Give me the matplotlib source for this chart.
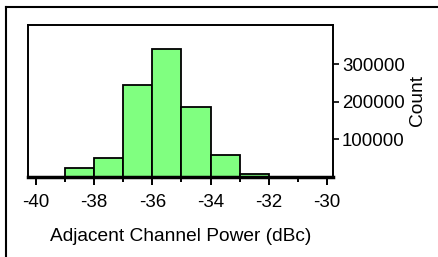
import numpy as np
import matplotlib
matplotlib.use('Agg')
import matplotlib.pyplot as plt
from matplotlib.lines import Line2D

plt.rcParams['font.family'] = ['Liberation Sans', 'DejaVu Sans']

# histogram bins (dBc) and counts
bin_edges = [-40, -39, -38, -37, -36, -35, -34, -33, -32, -31, -30]
counts = [1000, 25000, 51500, 244000, 342000, 187000, 59000, 8000, 1000, 1000]
x_ticks = [-40, -38, -36, -34, -32, -30]
y_ticks = [100000, 200000, 300000]

fig = plt.figure(figsize=(4.38, 2.57), dpi=100)
ax = fig.add_axes([28 / 438, 1 - 177 / 257, (333 - 28) / 438, (177 - 25) / 257])

lefts = np.array(bin_edges[:-1])
widths = np.diff(bin_edges)
ax.bar(lefts, counts, width=widths, align='edge', color='#80ff80',
       edgecolor='black', linewidth=1.3)

ax.set_xlim(-40.275, -29.79)
ax.set_ylim(0, 405000)

ax.set_xticks(x_ticks)
ax.set_xticklabels([str(t) for t in x_ticks])
ax.set_xticks(bin_edges[1::2], minor=True)
ax.tick_params(axis='x', which='major', direction='out', length=6, width=1.4,
               labelsize=13.5, pad=6.5)
ax.tick_params(axis='x', which='minor', direction='out', length=3.5, width=1.4)

ax.yaxis.tick_right()
ax.yaxis.set_label_position('right')
ax.set_yticks(y_ticks)
ax.set_yticklabels([str(t) for t in y_ticks])
ax.tick_params(axis='y', direction='out', length=4, width=1.2,
               labelsize=13.4, pad=2.5)

for s in ax.spines.values():
    s.set_linewidth(1.4)
ax.spines['bottom'].set_linewidth(2.5)

ax.set_xlabel('Adjacent Channel Power (dBc)', fontsize=13.8, labelpad=12)
ax.set_ylabel('Count', fontsize=13.8, labelpad=3)

# outer frame, left and top edges only
fig.add_artist(Line2D([6 / 438, 6 / 438], [0, 1 - 7 / 257],
                      transform=fig.transFigure, color='black', linewidth=1.5))
fig.add_artist(Line2D([6 / 438, 1], [1 - 7 / 257, 1 - 7 / 257],
                      transform=fig.transFigure, color='black', linewidth=1.5))

fig.savefig('out.png', dpi=100)
